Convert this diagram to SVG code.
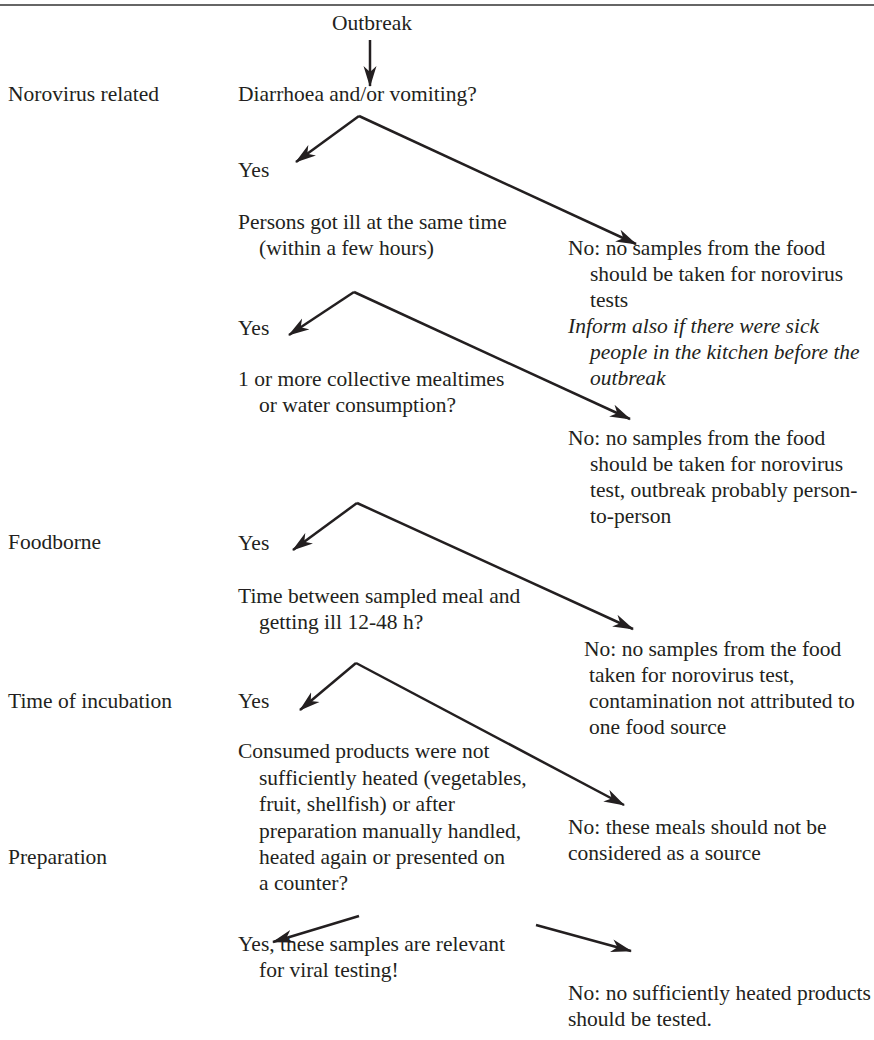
<svg xmlns="http://www.w3.org/2000/svg" width="874" height="1040" viewBox="0 0 874 1040">
<defs>
<marker id="ah" markerUnits="userSpaceOnUse" markerWidth="22" markerHeight="14" refX="20" refY="6.5" orient="auto" viewBox="0 0 22 13">
<path d="M0,0 L21,6.5 L0,13 L6,6.5 Z" fill="#231f20"/>
</marker>
<style>
text{font-family:"Liberation Serif","Times New Roman",serif;font-size:21.5px;fill:#231f20}
.it{font-style:italic}
.c{stroke:#231f20;stroke-width:2.5;fill:none}
</style>
</defs>
<rect width="874" height="1040" fill="#fff"/>
<line x1="0" y1="5" x2="874" y2="5" stroke="#333" stroke-width="1.6"/>
<g id="labels">
<text x="8" y="101">Norovirus related</text>
<text x="8" y="549">Foodborne</text>
<text x="8" y="708">Time of incubation</text>
<text x="8" y="864">Preparation</text>
</g>
<g id="n-outbreak"><text x="372" y="30" text-anchor="middle">Outbreak</text></g>
<g id="n-diarrhoea"><text x="238" y="101">Diarrhoea and/or vomiting?</text></g>
<g id="n-yes1"><text x="238" y="177">Yes</text></g>
<g id="n-persons"><text x="238" y="229">Persons got ill at the same time</text><text x="259" y="255">(within a few hours)</text></g>
<g id="n-yes2"><text x="238" y="335">Yes</text></g>
<g id="n-meal"><text x="238" y="386">1 or more collective mealtimes</text><text x="259" y="412">or water consumption?</text></g>
<g id="n-yes3"><text x="238" y="550">Yes</text></g>
<g id="n-time"><text x="238" y="603">Time between sampled meal and</text><text x="259" y="629">getting ill 12-48 h?</text></g>
<g id="n-yes4"><text x="238" y="708">Yes</text></g>
<g id="n-consumed"><text x="238" y="758">Consumed products were not</text><text x="259" y="785">sufficiently heated (vegetables,</text><text x="259" y="811">fruit, shellfish) or after</text><text x="259" y="838">preparation manually handled,</text><text x="259" y="864">heated again or presented on</text><text x="259" y="890">a counter?</text></g>
<g id="n-yes5"><text x="238" y="951">Yes, these samples are relevant</text><text x="259" y="977">for viral testing!</text></g>
<g id="n-no1"><text x="568" y="255">No: no samples from the food</text><text x="590" y="281">should be taken for norovirus</text><text x="590" y="307">tests</text><text class="it" x="568" y="333">Inform also if there were sick</text><text class="it" x="590" y="359">people in the kitchen before the</text><text class="it" x="590" y="385">outbreak</text></g>
<g id="n-no2"><text x="568" y="445">No: no samples from the food</text><text x="590" y="471">should be taken for norovirus</text><text x="590" y="497">test, outbreak probably person-</text><text x="590" y="523">to-person</text></g>
<g id="n-no3"><text x="584" y="656">No: no samples from the food</text><text x="589" y="682">taken for norovirus test,</text><text x="589" y="708">contamination not attributed to</text><text x="589" y="734">one food source</text></g>
<g id="n-no4"><text x="568" y="834">No: these meals should not be</text><text x="568" y="860">considered as a source</text></g>
<g id="n-no5"><text x="568" y="1000">No: no sufficiently heated products</text><text x="568" y="1026">should be tested.</text></g>
<g id="connectors" class="c">
<line x1="370" y1="40" x2="370" y2="86" marker-end="url(#ah)"/>
<line x1="359" y1="116" x2="636" y2="244" marker-end="url(#ah)"/>
<line x1="359" y1="116" x2="296" y2="162" marker-end="url(#ah)"/>
<line x1="354" y1="292" x2="630" y2="419" marker-end="url(#ah)"/>
<line x1="354" y1="292" x2="289" y2="335" marker-end="url(#ah)"/>
<line x1="357" y1="503" x2="633" y2="629" marker-end="url(#ah)"/>
<line x1="357" y1="503" x2="293" y2="550" marker-end="url(#ah)"/>
<line x1="356" y1="663" x2="624" y2="805" marker-end="url(#ah)"/>
<line x1="356" y1="663" x2="300" y2="710" marker-end="url(#ah)"/>
<line x1="359" y1="916" x2="273" y2="942" marker-end="url(#ah)"/>
<line x1="536" y1="925" x2="631" y2="951" marker-end="url(#ah)"/>
</g>
</svg>
